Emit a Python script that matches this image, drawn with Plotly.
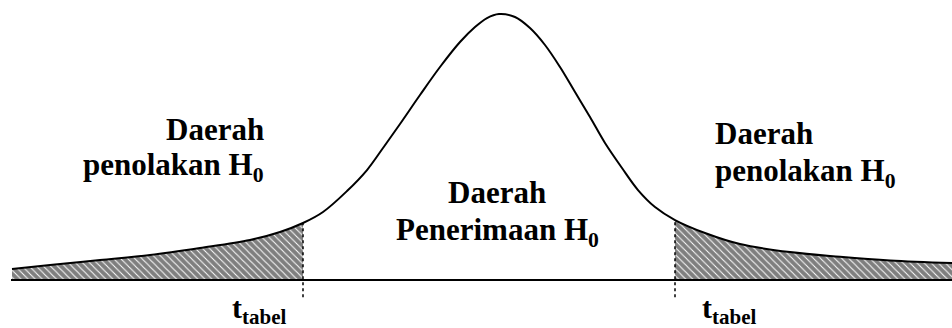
import plotly.graph_objects as go

# Curve of the test statistic distribution
T_VALUES = [-4.87, -4.49, -3.99, -3.49, -2.99, -2.49, -2.19, -1.96, -1.76, -1.52,
            -1.32, -1.16, -0.99, -0.79, -0.59, -0.39, -0.24, -0.12, 0.00, 0.16,
            0.31, 0.46, 0.61, 0.76, 0.91, 1.06, 1.23, 1.39, 1.56, 1.76,
            2.06, 2.41, 2.91, 3.41, 3.91, 4.53]
DENSITY = [0.0165, 0.0226, 0.0301, 0.0376, 0.0481, 0.0602, 0.0722, 0.0857, 0.1023, 0.1338,
           0.1654, 0.1985, 0.2346, 0.2782, 0.3203, 0.3579, 0.3805, 0.3940, 0.4000, 0.3955,
           0.3789, 0.3534, 0.3203, 0.2827, 0.2451, 0.2060, 0.1684, 0.1353, 0.1098, 0.0902,
           0.0707, 0.0541, 0.0420, 0.0350, 0.0295, 0.0256]

T_TABEL_LEFT = -1.96
T_TABEL_RIGHT = 1.76

LINE_DAERAH = "Daerah"
LINE_REJECT = "penolakan H<sub>0</sub>"
LINE_ACCEPT = "Penerimaan H<sub>0</sub>"
LABEL_TTABEL = "t<sub>tabel</sub>"

X_RANGE = [-4.99, 4.53]
Y_RANGE = [-0.0722, 0.4211]
DOT_BOTTOM = -0.026

W, H = 952, 328
FONT = "Liberation Serif"
FS = 31

left_idx = [i for i, t in enumerate(T_VALUES) if t <= T_TABEL_LEFT]
right_idx = [i for i, t in enumerate(T_VALUES) if t >= T_TABEL_RIGHT]

hatch = dict(shape="\\", fgcolor="black", bgcolor="white", size=5, solidity=0.8)

fig = go.Figure()

for idx in (left_idx, right_idx):
    fig.add_trace(go.Scatter(
        x=[T_VALUES[i] for i in idx], y=[DENSITY[i] for i in idx],
        mode="lines", line=dict(width=0, shape="spline"),
        fill="tozeroy", fillcolor="black", fillpattern=hatch,
        hoverinfo="skip", showlegend=False))

# baseline
fig.add_trace(go.Scatter(
    x=[T_VALUES[0] - 0.01, X_RANGE[1]], y=[0, 0], mode="lines",
    line=dict(color="black", width=2), showlegend=False, hoverinfo="skip"))

# dotted critical lines
for tc in (T_TABEL_LEFT, T_TABEL_RIGHT):
    yc = DENSITY[T_VALUES.index(tc)]
    fig.add_trace(go.Scatter(
        x=[tc, tc], y=[DOT_BOTTOM, yc], mode="lines",
        line=dict(color="black", width=1.5, dash="dot"),
        showlegend=False, hoverinfo="skip"))

# curve
fig.add_trace(go.Scatter(
    x=T_VALUES, y=DENSITY, mode="lines",
    line=dict(color="black", width=2, shape="spline", smoothing=1),
    showlegend=False, hoverinfo="skip"))


def px(xp):
    return xp / W


def py(yp):
    return 1 - yp / H


def label(text, xp, yp, xanchor, size=FS):
    return dict(text="<b>" + text + "</b>", x=px(xp), y=py(yp),
                xanchor=xanchor, yanchor="middle", align=xanchor,
                xref="paper", yref="paper", showarrow=False,
                font=dict(family=FONT, size=size, color="black"))


annotations = [
    label(LINE_DAERAH, 266, 129.5, "right"),
    label(LINE_REJECT, 266, 167, "right"),
    label(LINE_DAERAH, 497, 192.5, "center"),
    label(LINE_ACCEPT, 497, 232, "center"),
    label(LINE_DAERAH, 713, 133.5, "left"),
    label(LINE_REJECT, 713, 173, "left"),
    label(LABEL_TTABEL, 230, 310, "left", 30),
    label(LABEL_TTABEL, 700, 310, "left", 30),
]

fig.update_layout(
    width=W, height=H, margin=dict(l=0, r=0, t=0, b=0),
    paper_bgcolor="white", plot_bgcolor="white",
    font=dict(family=FONT),
    xaxis=dict(range=X_RANGE, visible=False, fixedrange=True),
    yaxis=dict(range=Y_RANGE, visible=False, fixedrange=True),
    annotations=annotations, showlegend=False,
)

fig.write_html(
    "out.html",
    config={"displayModeBar": False},
    post_script="document.body.style.margin='0';document.body.style.overflow='hidden';",
)
